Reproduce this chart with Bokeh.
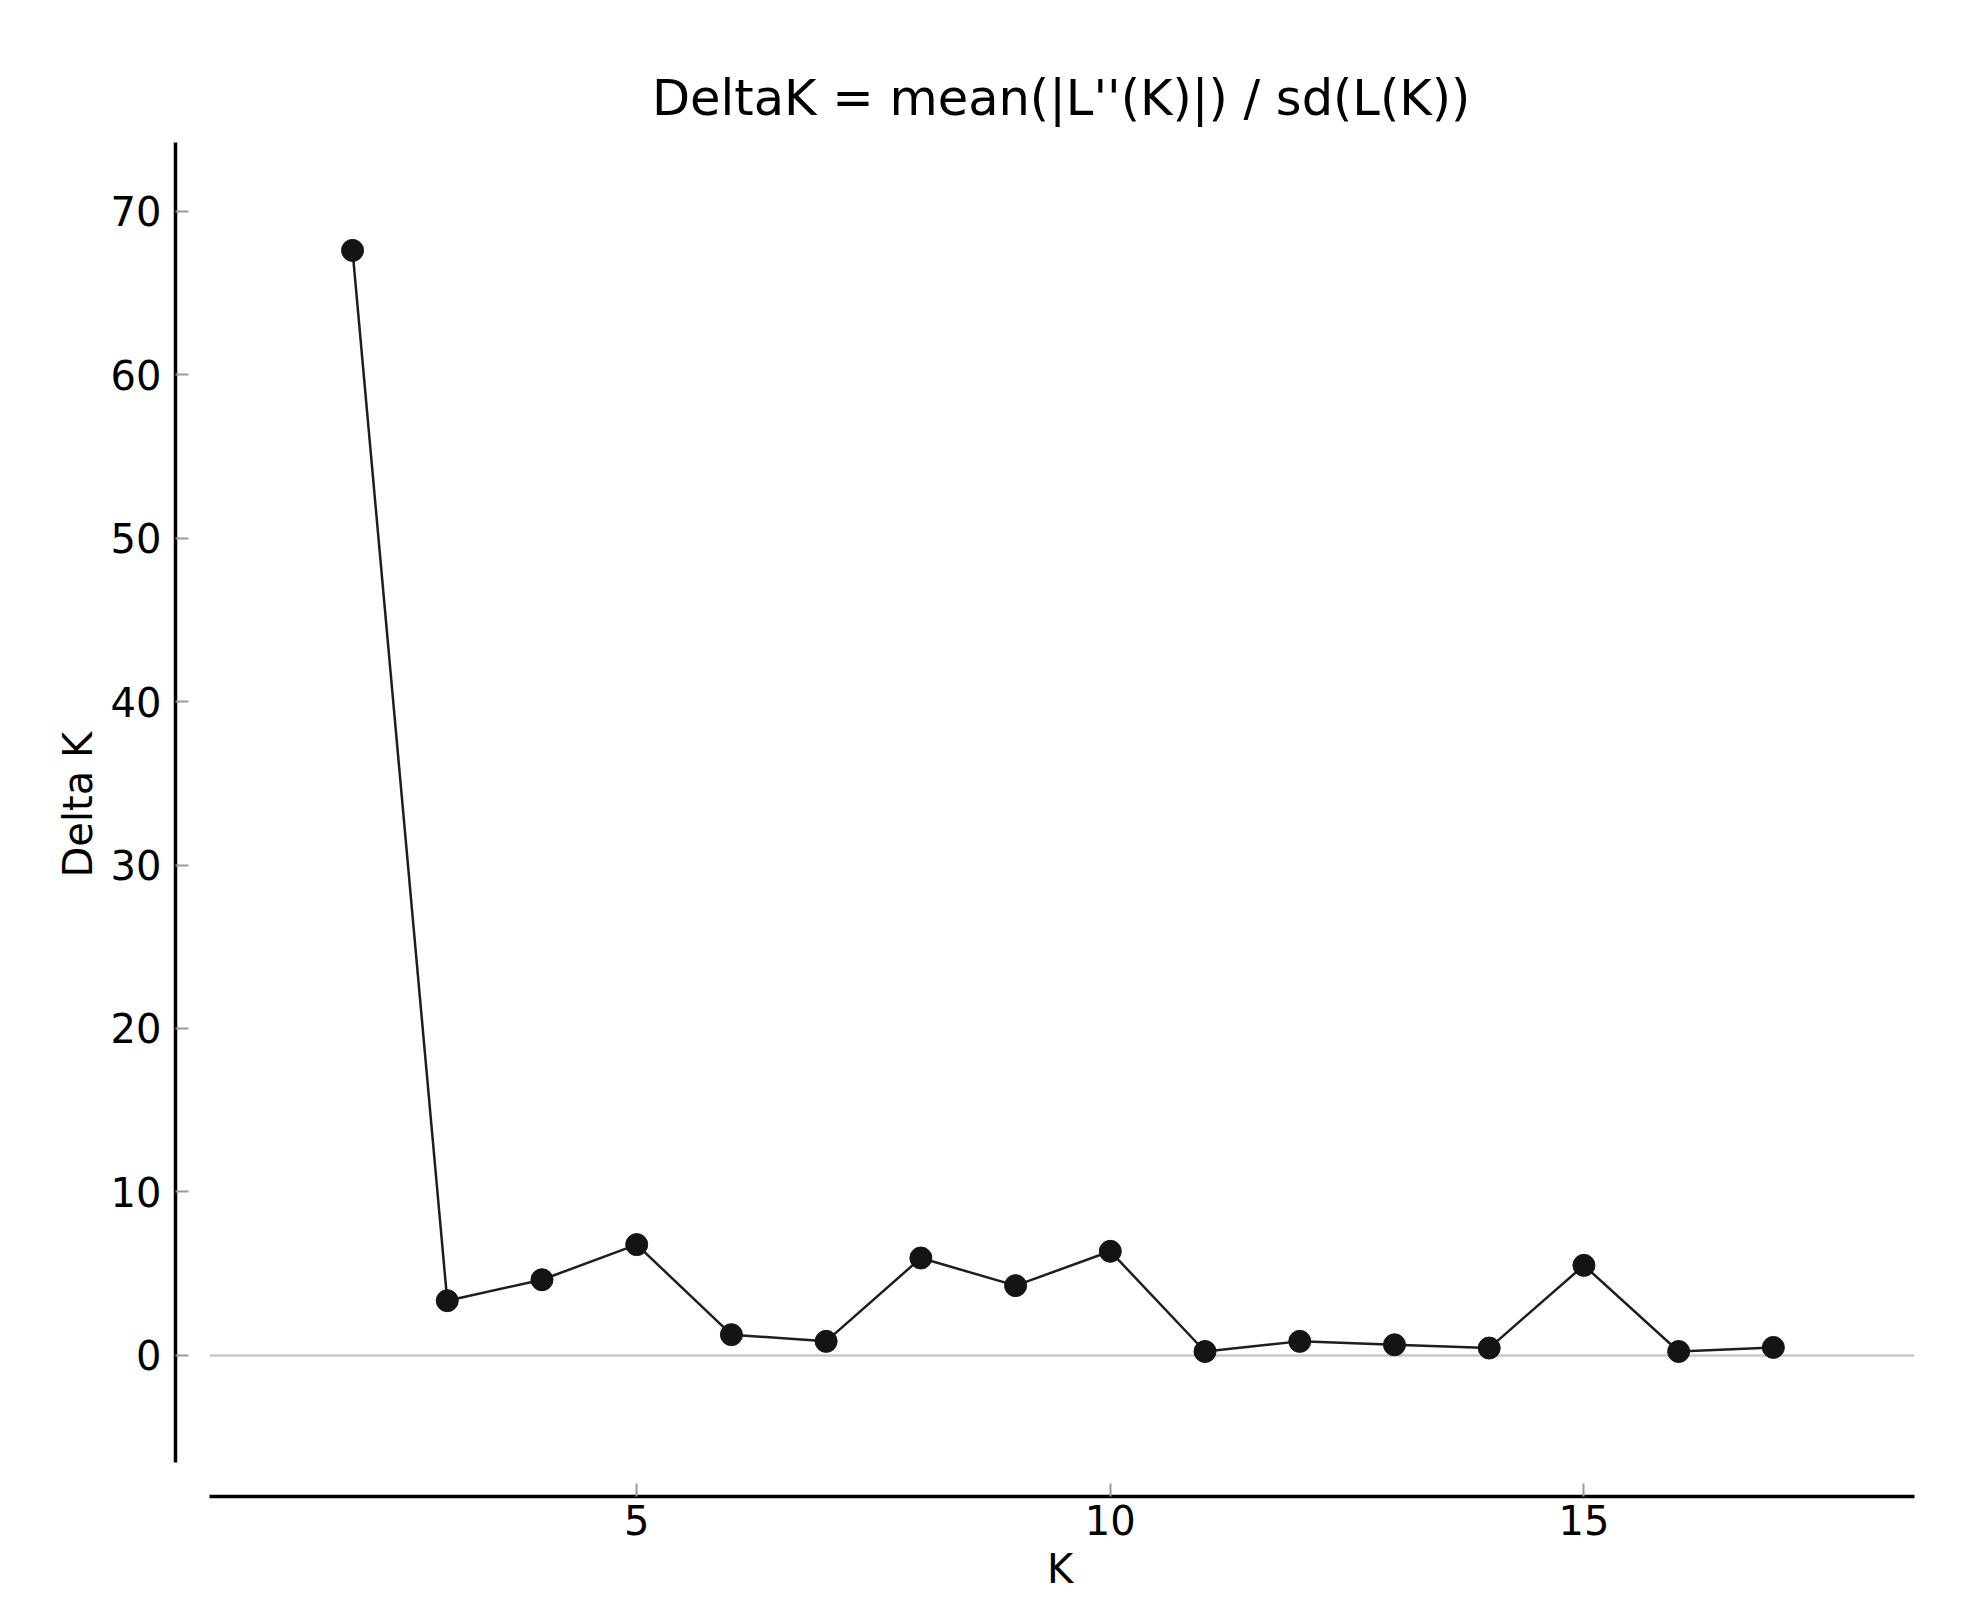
from bokeh.plotting import figure
from bokeh.models import FixedTicker, Range1d, Title
from bokeh.embed import file_html
from bokeh.resources import INLINE

# ---- data ----
K = list(range(2, 18))
delta_k = [67.6, 3.35, 4.63, 6.78, 1.27, 0.86, 5.96, 4.27, 6.37,
           0.24, 0.86, 0.65, 0.45, 5.51, 0.24, 0.49]
x_ticks = [5, 10, 15]
y_ticks = [0, 10, 20, 30, 40, 50, 60, 70]
x_lim = (0.49, 18.49)
y_lim = (-6.55, 74.2)
title_text = "DeltaK = mean(|L''(K)|) / sd(L(K))"
x_label = "K"
y_label = "Delta K"

# ---- layout ----
FONT = "DejaVu Sans"
frame_w, frame_h = 1739, 1354
spine_offset = 34  # px, matplotlib-like outward spines
px_x = (frame_w - spine_offset) / (x_lim[1] - x_lim[0])
px_y = (frame_h - spine_offset) / (y_lim[1] - y_lim[0])

p = figure(
    output_backend="svg", toolbar_location=None,
    frame_width=frame_w, frame_height=frame_h,
    min_border_left=175, min_border_top=142, min_border_right=50, min_border_bottom=108,
    x_range=Range1d(x_lim[0] - spine_offset / px_x, x_lim[1]),
    y_range=Range1d(y_lim[0] - spine_offset / px_y, y_lim[1]),
)
p.outline_line_color = None
p.grid.visible = False
p.background_fill_color = "white"
p.border_fill_color = "white"

for ax in (p.xaxis[0], p.yaxis[0]):
    ax.axis_line_color = "black"
    ax.axis_line_width = 3.5
    ax.major_tick_in = 13
    ax.major_tick_out = 0
    ax.major_tick_line_color = "#9a9a9a"
    ax.major_tick_line_width = 2
    ax.minor_tick_line_color = None
    ax.major_label_text_font = FONT
    ax.major_label_text_font_size = "40px"
    ax.major_label_text_color = "black"

p.xaxis.ticker = FixedTicker(ticks=x_ticks)
p.yaxis.ticker = FixedTicker(ticks=y_ticks)
p.xaxis.bounds = x_lim
p.yaxis.bounds = y_lim
p.xaxis.major_label_standoff = 8
p.yaxis.major_label_standoff = 14

# titles / axis labels centred over the data area (not the padded frame)
data_cx = spine_offset + (frame_w - spine_offset) / 2      # from frame left
data_cy = (frame_h - spine_offset) / 2                      # from frame top
title_w = 812
p.add_layout(Title(text=title_text, align="left", offset=data_cx - title_w / 2 - 4,
                   text_font=FONT, text_font_size="49.5px", text_font_style="normal",
                   text_color="black", standoff=31), "above")
xl_w = 26
p.add_layout(Title(text=x_label, align="left", offset=data_cx - xl_w / 2 - 2,
                   text_font=FONT, text_font_size="40px", text_font_style="normal",
                   text_color="black", standoff=13), "below")
yl_w = 146
p.add_layout(Title(text=y_label, align="left", offset=(frame_h - data_cy) - yl_w / 2 - 2,
                   text_font=FONT, text_font_size="40px", text_font_style="normal",
                   text_color="black", standoff=14), "left")

# zero reference line across the data area
p.segment(x0=[x_lim[0]], y0=[0], x1=[x_lim[1]], y1=[0], line_color="#c8c8c8", line_width=2.5)

p.line(K, delta_k, line_color="#1e1e1e", line_width=2.5)
p.scatter(K, delta_k, size=22, fill_color="#141414", line_color="#141414")

open("out.html", "w").write(file_html(p, INLINE))
